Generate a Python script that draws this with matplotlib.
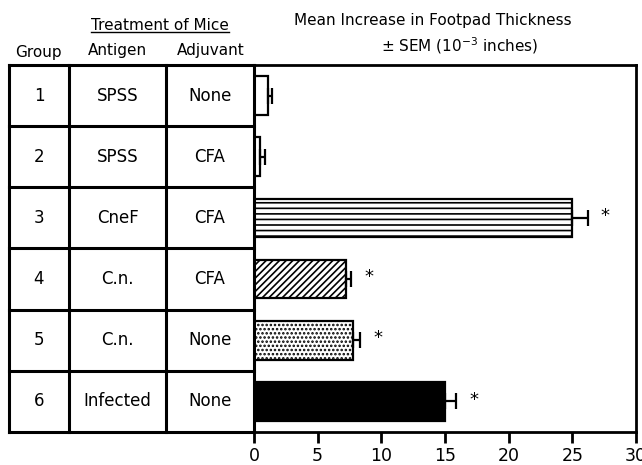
import matplotlib
matplotlib.use('Agg')
import matplotlib.pyplot as plt
from matplotlib.lines import Line2D

# ---- data ----
groups = ['1', '2', '3', '4', '5', '6']
antigens = ['SPSS', 'SPSS', 'CneF', 'C.n.', 'C.n.', 'Infected']
adjuvants = ['None', 'CFA', 'CFA', 'CFA', 'None', 'None']
means = [1.1, 0.5, 25.0, 7.2, 7.8, 15.0]
sems = [0.3, 0.4, 1.2, 0.4, 0.5, 0.9]
significant = [False, False, True, True, True, True]
xticks = [0, 5, 10, 15, 20, 25, 30]

# ---- styles ----
hatches = ['', '', '---', '/////', '....', '']
faces = ['white', 'white', 'white', 'white', 'white', 'black']

plt.rcParams['font.family'] = ['DejaVu Sans']
plt.rcParams['hatch.linewidth'] = 1.2
plt.rcParams['mathtext.fontset'] = 'dejavusans'

W, H = 642, 465
fig = plt.figure(figsize=(W / 100, H / 100), dpi=100)

top_px, bot_px = 65, 432
left_px, right_px = 254, 636
tab_left_px = 9

def fx(px):
    return px / W

def fy(py):
    return 1 - py / H

ax = fig.add_axes([fx(left_px), fy(bot_px), fx(right_px - left_px), (bot_px - top_px) / H])
tax = fig.add_axes([fx(tab_left_px), fy(bot_px), fx(left_px - tab_left_px), (bot_px - top_px) / H])

n = len(groups)
ypos = [i + 0.5 for i in range(n)]

for i in range(n):
    ax.barh(ypos[i], means[i], height=0.63, color=faces[i], edgecolor='black',
            linewidth=1.6, hatch=hatches[i], zorder=2)
ax.errorbar(means, ypos, xerr=[[0] * n, sems], fmt='none', ecolor='black',
            elinewidth=1.6, capsize=6, capthick=1.6, zorder=3)
for i in range(n):
    if significant[i]:
        ax.text(means[i] + sems[i] + 1.4, ypos[i] - 0.03, '*', ha='center', va='center',
                fontsize=13)

ax.set_xlim(0, 30)
ax.set_ylim(n, 0)
ax.set_xticks(xticks)
ax.set_xticklabels([str(t) for t in xticks], fontsize=12.5)
ax.set_yticks([])
ax.tick_params(axis='x', direction='out', length=8, width=2, pad=3)
for s in ax.spines.values():
    s.set_linewidth(2)

# ---- table ----
col_edges = [0, 60 / 245, 157 / 245, 1.0]
tax.set_xlim(0, 1)
tax.set_ylim(n, 0)
tax.axis('off')
for r in range(n + 1):
    tax.plot([0, 1], [r, r], color='black', lw=2.2, solid_capstyle='projecting', clip_on=False)
for c in col_edges:
    tax.plot([c, c], [0, n], color='black', lw=2.2, solid_capstyle='projecting', clip_on=False)

cols = [groups, antigens, adjuvants]
centers = [(col_edges[k] + col_edges[k + 1]) / 2 for k in range(3)]
for k, col in enumerate(cols):
    for i, txt in enumerate(col):
        tax.text(centers[k], ypos[i], txt, ha='center', va='center', fontsize=12)

# ---- headers ----
fig.text(fx(38), fy(52), 'Group', ha='center', va='center', fontsize=11)
fig.text(fx(117), fy(50), 'Antigen', ha='center', va='center', fontsize=11)
fig.text(fx(211), fy(51), 'Adjuvant', ha='center', va='center', fontsize=11)
t = fig.text(fx(160), fy(26), 'Treatment of Mice', ha='center', va='center', fontsize=11)
fig.text(fx(433), fy(20), 'Mean Increase in Footpad Thickness', ha='center', va='center', fontsize=11)
fig.text(fx(460), fy(46), '± SEM (10$^{-3}$ inches)', ha='center', va='center', fontsize=11)

fig.canvas.draw()
bb = t.get_window_extent()
fig.add_artist(Line2D([bb.x0 / W, bb.x1 / W], [(bb.y0 + 1) / H, (bb.y0 + 1) / H],
                      color='black', lw=1, transform=fig.transFigure))

fig.savefig('out.png', dpi=100)
